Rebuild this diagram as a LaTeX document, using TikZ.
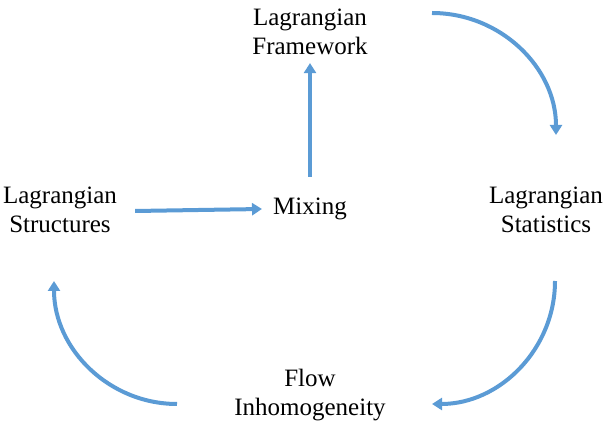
\documentclass[tikz,border=0pt]{standalone}
\usepackage{fontspec}
\setmainfont{Liberation Serif}
\usepackage{tikz}
\usetikzlibrary{calc,positioning,arrows.meta}
\definecolor{flowblue}{RGB}{91,155,213}

\begin{document}
\begin{tikzpicture}[x=1pt,y=1pt,
    label/.style={align=center,inner sep=4pt,font=\fontsize{25}{29}\selectfont},
    flow/.style={flowblue,line width=4pt,-{Triangle[length=10pt,width=12pt]}}]
  \useasboundingbox (0,0) rectangle (605,423);
  \node[label] (fw) at (310,391) {Lagrangian\\Framework};
  \node[label] (mx) at (310,214) {Mixing};
  \node[label] (st) at (60,213) {Lagrangian\\Structures};
  \node[label] (ss) at (546,213) {Lagrangian\\Statistics};
  \node[label] (fl) at (310,28) {Flow\\Inhomogeneity};
  \coordinate (a1) at (432,410);
  \coordinate (a2) at (555,142);
  \coordinate (a3) at (177,19);
  \draw[flow] ([xshift=14pt,yshift=-1pt]st.east) -- ([xshift=-7pt]mx.west);
  \draw[flow] ([yshift=17pt]mx.north) -- ([yshift=-4pt]fw.south);
  \draw[flow] (a1) arc[start angle=90,end angle=0,x radius=124,y radius=122];
  \draw[flow] (a2) arc[start angle=0,end angle=-90,radius=123];
  \draw[flow] (a3) arc[start angle=270,end angle=180,radius=123];
\end{tikzpicture}
\end{document}
